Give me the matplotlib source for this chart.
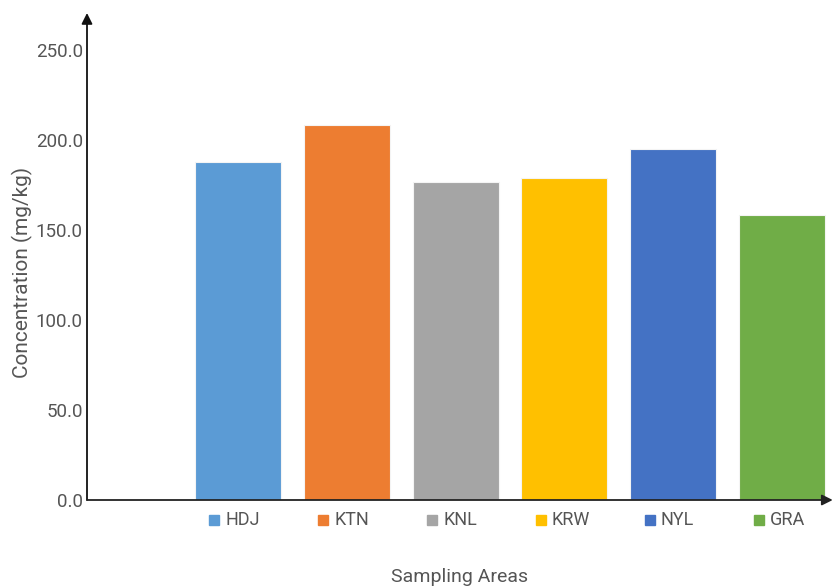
import matplotlib.pyplot as plt
from matplotlib.transforms import blended_transform_factory

plt.rcParams['font.family'] = ['Roboto', 'DejaVu Sans']

areas = ['HDJ', 'KTN', 'KNL', 'KRW', 'NYL', 'GRA']
conc = [187.8, 208.3, 176.5, 178.7, 194.8, 158.3]
colors = ['#5B9BD5', '#ED7D31', '#A5A5A5', '#FFC000', '#4472C4', '#70AD47']
yticks = [0, 50, 100, 150, 200, 250]

fig = plt.figure(figsize=(8.34, 5.88), dpi=100)
ax = fig.add_axes([87 / 834, 88 / 588, (829 - 87) / 834, (575 - 88) / 588])

xpos = list(range(len(areas)))
ax.bar(xpos, conc, width=0.79, color=colors, edgecolor='#f4f4f4', linewidth=0.8, zorder=2)

ax.set_xlim(-1.385, 5.43)
ax.set_ylim(0, 270.5)

for s in ax.spines.values():
    s.set_visible(False)

# axes drawn as arrows
ax.annotate('', xy=(0, 1), xytext=(0, 0), xycoords='axes fraction',
            arrowprops=dict(arrowstyle='-|>', color='#111111', lw=1.3, mutation_scale=16,
                            shrinkA=0, shrinkB=0), zorder=3)
ax.annotate('', xy=(1.005, 0), xytext=(0, 0), xycoords='axes fraction',
            arrowprops=dict(arrowstyle='-|>', color='#222222', lw=1.3, mutation_scale=16,
                            shrinkA=0, shrinkB=0), zorder=3)

ax.set_xticks([])
ax.set_yticks(yticks)
ax.set_yticklabels([f'{v:.1f}' for v in yticks], fontsize=13.5, color='#555555')
ax.tick_params(axis='y', length=0, pad=3)

# legend entries under each bar
trans = blended_transform_factory(ax.transData, ax.transAxes)
for x, name, c in zip(xpos, areas, colors):
    ax.plot(x - 0.215, -0.042, marker='s', markersize=7.5, color=c, transform=trans,
            clip_on=False, linestyle='none')
    ax.text(x - 0.115, -0.042, name, transform=trans, ha='left', va='center',
            fontsize=13, color='#555555')

fig.text(22 / 834, 1 - 272 / 588, 'Concentration (mg/kg)', rotation=90, ha='center',
         va='center', fontsize=15, color='#555555')
fig.text(460 / 834, 1 - 577 / 588, 'Sampling Areas', ha='center', va='center',
         fontsize=14, color='#555555')

fig.savefig('out.png', dpi=100)
